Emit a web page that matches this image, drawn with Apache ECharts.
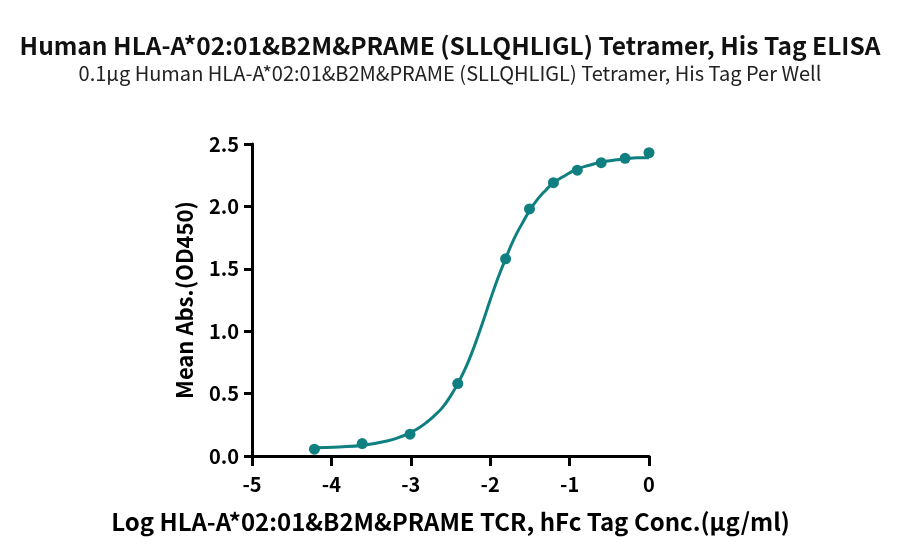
<!DOCTYPE html>
<html>
<head>
<meta charset="utf-8">
<script src="https://cdn.jsdelivr.net/npm/echarts@6/dist/echarts.min.js"></script>
<style>
  html, body { margin: 0; padding: 0; background: #fff; }
  #chart { width: 900px; height: 560px; }
</style>
</head>
<body>
<div id="chart"></div>
<script>
// measured points (log conc, OD450)
var logConc = [-4.214, -3.612, -3.010, -2.408, -1.806, -1.505, -1.204, -0.903, -0.602, -0.301, 0];
var meanAbs = [0.055, 0.10, 0.175, 0.58, 1.58, 1.98, 2.19, 2.29, 2.35, 2.385, 2.43];

// fitted curve
var fitX = [-4.214, -3.9, -3.6, -3.3, -3.1, -3.0, -2.9, -2.8, -2.7, -2.6, -2.5, -2.4, -2.3, -2.2, -2.1, -2.0, -1.9, -1.8, -1.7, -1.6, -1.5, -1.4, -1.3, -1.2, -1.05, -0.9, -0.75, -0.6, -0.45, -0.3, -0.15, 0];
var fitY = [0.066, 0.073, 0.087, 0.12, 0.16, 0.19, 0.225, 0.27, 0.325, 0.39, 0.48, 0.59, 0.72, 0.88, 1.06, 1.25, 1.43, 1.59, 1.74, 1.86, 1.97, 2.06, 2.13, 2.19, 2.25, 2.30, 2.33, 2.355, 2.37, 2.38, 2.39, 2.39];

var xTicks = [-5, -4, -3, -2, -1, 0];
var yTicks = [0, 0.5, 1.0, 1.5, 2.0, 2.5];

var teal = '#0f7f80';
var font = '"Noto Sans CJK SC", "Noto Sans", sans-serif';

var chart = echarts.init(document.getElementById('chart'));
var option = {
    animation: false,
    title: {
        text: 'Human HLA-A*02:01&B2M&PRAME (SLLQHLIGL) Tetramer, His Tag ELISA',
        subtext: '0.1μg Human HLA-A*02:01&B2M&PRAME (SLLQHLIGL) Tetramer, His Tag Per Well',
        left: 'center',
        top: 28,
        itemGap: 6,
        textStyle: { fontFamily: font, fontSize: 24.5, fontWeight: 'bold', color: '#111' },
        subtextStyle: { fontFamily: font, fontSize: 20, color: '#222' }
    },
    grid: { left: 252, right: 251, top: 144, bottom: 104 },
    xAxis: {
        type: 'value',
        min: xTicks[0],
        max: xTicks[xTicks.length - 1],
        interval: 1,
        splitLine: { show: false },
        axisLine: { onZero: false, lineStyle: { color: '#000', width: 3 } },
        axisTick: { length: 10, lineStyle: { color: '#000', width: 3 } },
        axisLabel: { color: '#000', fontFamily: font, fontSize: 20, fontWeight: 'bold', margin: 18 },
        name: 'Log HLA-A*02:01&B2M&PRAME TCR, hFc Tag Conc.(μg/ml)',
        nameLocation: 'middle',
        nameGap: 54,
        nameTextStyle: { color: '#000', fontFamily: font, fontSize: 24, fontWeight: 'bold' }
    },
    yAxis: {
        type: 'value',
        min: yTicks[0],
        max: yTicks[yTicks.length - 1],
        interval: 0.5,
        splitLine: { show: false },
        axisLine: { show: true, onZero: false, lineStyle: { color: '#000', width: 3 } },
        axisTick: { show: true, length: 8, lineStyle: { color: '#000', width: 3 } },
        axisLabel: {
            color: '#000', fontFamily: font, fontSize: 20, fontWeight: 'bold', margin: 13,
            formatter: function (v) { return v.toFixed(1); }
        },
        name: 'Mean Abs.(OD450)',
        nameLocation: 'middle',
        nameGap: 56,
        nameTextStyle: { color: '#000', fontFamily: font, fontSize: 22, fontWeight: 'bold' }
    },
    series: [
        {
            name: 'fit',
            type: 'line',
            smooth: true,
            showSymbol: false,
            data: fitX.map(function (x, i) { return [x, fitY[i]]; }),
            lineStyle: { color: teal, width: 3 }
        },
        {
            name: 'data',
            type: 'scatter',
            symbolSize: 11,
            data: logConc.map(function (x, i) { return [x, meanAbs[i]]; }),
            itemStyle: { color: teal, opacity: 1 }
        }
    ]
};
chart.setOption(option);
window.addEventListener('resize', function () {
    chart.resize();
});
</script>
</body>
</html>
